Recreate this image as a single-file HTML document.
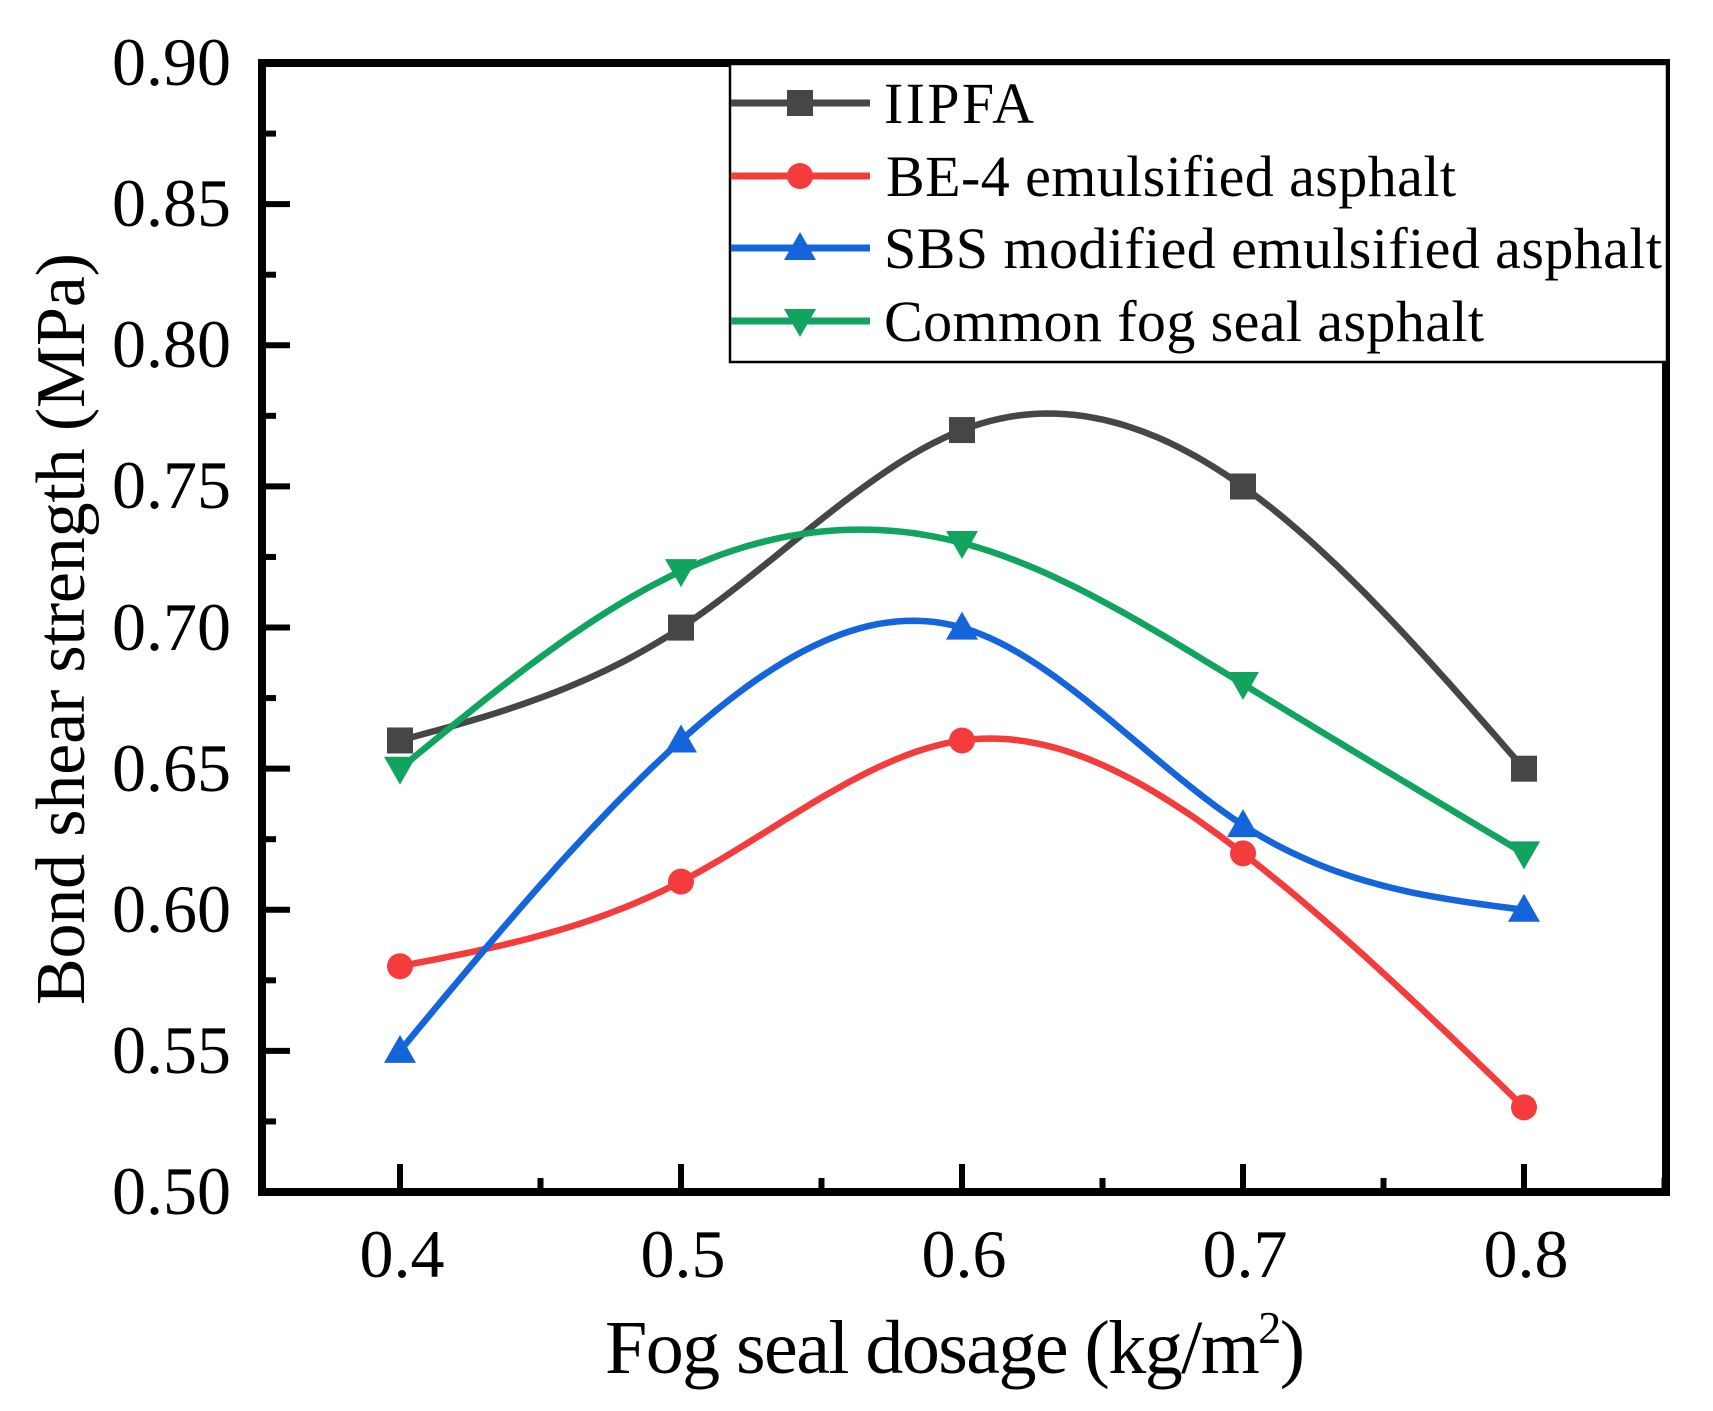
<!DOCTYPE html>
<html><head><meta charset="utf-8"><style>
html,body{margin:0;padding:0;background:#fff;}
svg{display:block;}
text{font-family:"Liberation Serif",serif;fill:#000;}
</style></head><body>
<svg id="s" width="1713" height="1411" viewBox="0 0 1713 1411" xmlns="http://www.w3.org/2000/svg">
<g id="g"></g>
<rect x="262" y="63" width="1404" height="1129" fill="none" stroke="#000" stroke-width="8"/>
<g font-size="68" text-anchor="end">
<text x="231" y="85">0.90</text>
<text x="231" y="226">0.85</text>
<text x="231" y="367">0.80</text>
<text x="231" y="508">0.75</text>
<text x="231" y="650">0.70</text>
<text x="231" y="791">0.65</text>
<text x="231" y="932">0.60</text>
<text x="231" y="1073">0.55</text>
<text x="231" y="1214">0.50</text>
</g>
<g font-size="68" text-anchor="middle">
<text x="402" y="1277">0.4</text>
<text x="683" y="1277">0.5</text>
<text x="964" y="1277">0.6</text>
<text x="1245" y="1277">0.7</text>
<text x="1526" y="1277">0.8</text>
</g>
<text x="605" y="1373" font-size="76" textLength="700">Fog seal dosage (kg/m<tspan font-size="46" dy="-30">2</tspan><tspan dy="30">)</tspan></text>
<text transform="translate(84,629) rotate(-90)" font-size="70" text-anchor="middle" textLength="752">Bond shear strength (MPa)</text>
<rect x="730" y="64" width="937" height="298" fill="#fff" stroke="#000" stroke-width="2.5"/>
<g font-size="58">
<text x="884" y="123" textLength="150">IIPFA</text>
<text x="886" y="196" textLength="570">BE-4 emulsified asphalt</text>
<text x="884" y="268" textLength="778">SBS modified emulsified asphalt</text>
<text x="884" y="341" textLength="600">Common fog seal asphalt</text>
</g>
</svg>
<script>
var g=document.getElementById('g');
var NS='http://www.w3.org/2000/svg';
function X(v){return 400+(v-0.4)*2810;}
function Y(v){return 1192-(v-0.5)*2822;}
function el(t,a){var e=document.createElementNS(NS,t);for(var k in a)e.setAttribute(k,a[k]);g.appendChild(e);return e;}
for(var i=0;i<=16;i++){var y=1192-i*70.56;var L=(i%2==0)?28:14;if(i>0&&i<16)el('line',{x1:262,y1:y,x2:262+L,y2:y,stroke:'#000','stroke-width':6});}
for(var i=0;i<=9;i++){var v=0.4+i*0.05;var x=X(v);var L=(i%2==0)?28:14;el('line',{x1:x,y1:1192,x2:x,y2:1192-L,stroke:'#000','stroke-width':6});}
function spline(xs,ys){var n=xs.length,h=[],a=[],l=[1],mu=[0],z=[0],c=new Array(n).fill(0),b=[],d=[];
for(var i=0;i<n-1;i++)h[i]=xs[i+1]-xs[i];
for(var i=1;i<n-1;i++)a[i]=3/h[i]*(ys[i+1]-ys[i])-3/h[i-1]*(ys[i]-ys[i-1]);
for(var i=1;i<n-1;i++){l[i]=2*(xs[i+1]-xs[i-1])-h[i-1]*mu[i-1];mu[i]=h[i]/l[i];z[i]=(a[i]-h[i-1]*z[i-1])/l[i];}
l[n-1]=1;z[n-1]=0;c[n-1]=0;
for(var j=n-2;j>=0;j--){c[j]=z[j]-mu[j]*c[j+1];b[j]=(ys[j+1]-ys[j])/h[j]-h[j]*(c[j+1]+2*c[j])/3;d[j]=(c[j+1]-c[j])/(3*h[j]);}
var p='';for(var j=0;j<n-1;j++){for(var k=0;k<=30;k++){var t=h[j]*k/30;var yy=ys[j]+b[j]*t+c[j]*t*t+d[j]*t*t*t;p+=(p?'L':'M')+X(xs[j]+t).toFixed(1)+' '+Y(yy).toFixed(1);}}return p;}
var xs=[0.4,0.5,0.6,0.7,0.8];
var S=[
{c:'#464646',y:[.66,.70,.77,.75,.65],m:'sq'},
{c:'#f53c3c',y:[.58,.61,.66,.62,.53],m:'ci'},
{c:'#1464dc',y:[.55,.66,.70,.63,.60],m:'up'},
{c:'#10a45e',y:[.65,.72,.73,.68,.62],m:'dn'}];
function mark(m,x,y,c){
if(m=='sq')el('rect',{x:x-13,y:y-13,width:26,height:26,fill:c});
else if(m=='ci')el('circle',{cx:x,cy:y,r:13,fill:c});
else if(m=='up')el('polygon',{points:(x)+','+(y-16)+' '+(x-16)+','+(y+12)+' '+(x+16)+','+(y+12),fill:c});
else el('polygon',{points:(x)+','+(y+16)+' '+(x-16)+','+(y-12)+' '+(x+16)+','+(y-12),fill:c});}
S.forEach(function(s){el('path',{d:spline(xs,s.y),fill:'none',stroke:s.c,'stroke-width':6.5});});
S.forEach(function(s){xs.forEach(function(x,i){mark(s.m,X(x),Y(s.y[i]),s.c);});});
var svg=document.getElementById('s');var rows=[103,176,248,321];
S.forEach(function(s,i){var l=document.createElementNS(NS,'line');l.setAttribute('x1',731);l.setAttribute('x2',870);l.setAttribute('y1',rows[i]);l.setAttribute('y2',rows[i]);l.setAttribute('stroke',s.c);l.setAttribute('stroke-width',7);svg.appendChild(l);
var gg=g;g=svg;mark(s.m,800,rows[i],s.c);g=gg;});
</script>
</body></html>
